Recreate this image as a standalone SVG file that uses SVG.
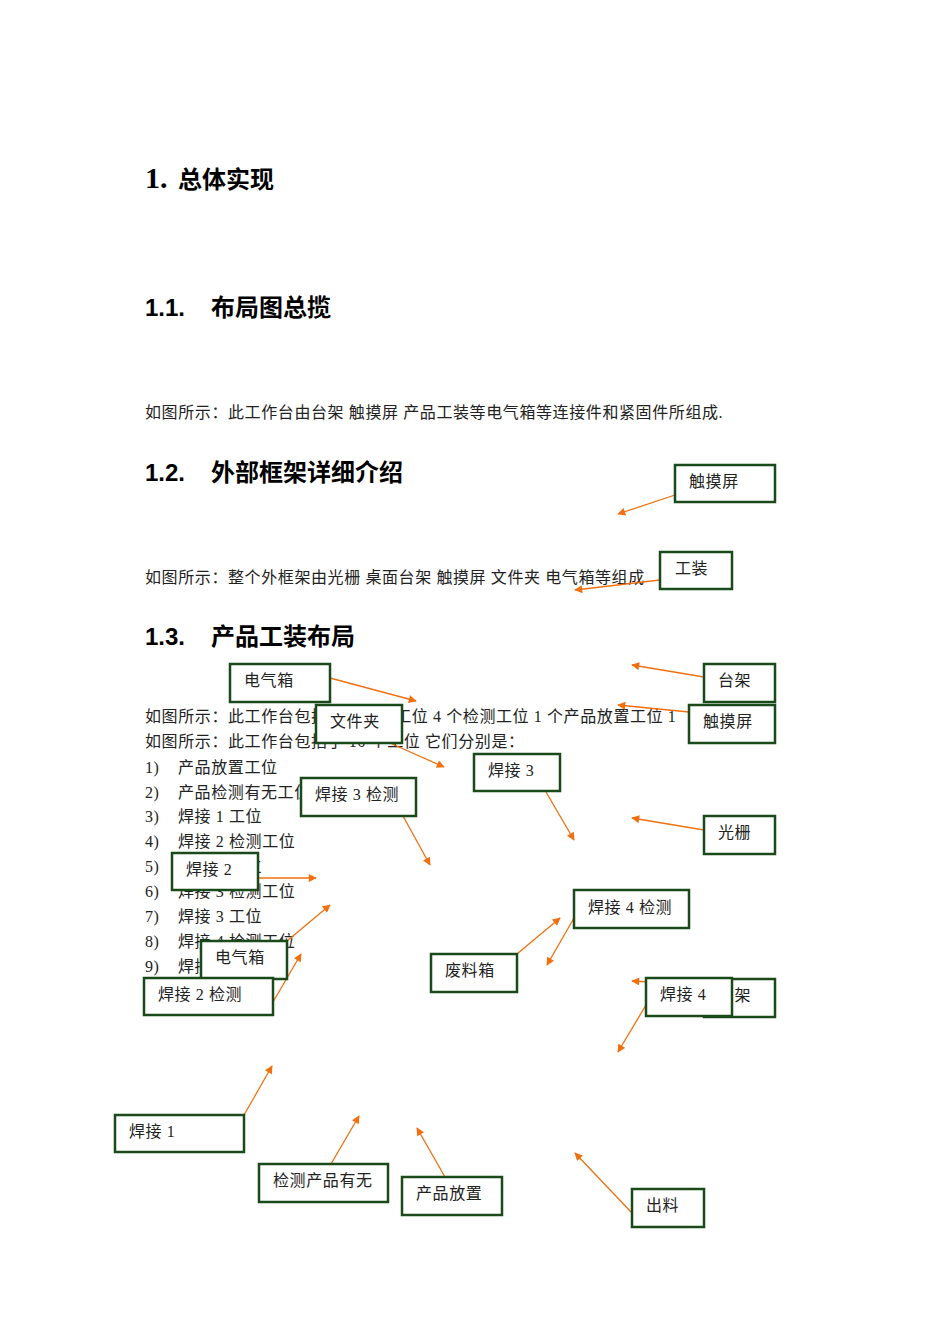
<svg xmlns="http://www.w3.org/2000/svg" width="950" height="1344" viewBox="0 0 950 1344">
<defs>
<marker id="ah" viewBox="0 0 10 10" refX="9" refY="5" markerWidth="10" markerHeight="8" markerUnits="userSpaceOnUse" orient="auto"><path d="M0,0L10,5L0,10z" fill="#f07010"/></marker>
<style>
.t{font-family:"Liberation Serif","Noto Sans CJK SC",serif;font-size:16px;fill:#222;letter-spacing:0.6px}
.h{font-family:"Liberation Sans","Noto Sans CJK SC",sans-serif;font-size:24px;font-weight:bold;fill:#000}
.b{fill:#fff;stroke:#1a4a1a;stroke-width:2.5}
.c line{stroke:#f07010;stroke-width:1.3;marker-end:url(#ah)}
</style>
</defs>
<rect width="950" height="1344" fill="#fff"/>
<text x="145" y="188" font-family="Liberation Serif,serif" font-size="30" font-weight="bold">1.</text>
<text x="178" y="188" font-family="Noto Sans CJK SC,sans-serif" font-size="24" font-weight="bold">总体实现</text>
<text class="h" x="145" y="316">1.1.</text><text class="h" x="211" y="316">布局图总揽</text>
<text class="t" x="145" y="418">如图所示：此工作台由台架 触摸屏 产品工装等电气箱等连接件和紧固件所组成.</text>
<text class="h" x="145" y="481">1.2.</text><text class="h" x="211" y="481">外部框架详细介绍</text>
<text class="t" x="145" y="583">如图所示：整个外框架由光栅 桌面台架 触摸屏 文件夹 电气箱等组成</text>
<text class="h" x="145" y="645">1.3.</text><text class="h" x="211" y="645">产品工装布局</text>
<text class="t" x="145" y="722">如图所示：此工作台包括 4 个焊接工位 4 个检测工位 1 个产品放置工位 1</text>
<text class="t" x="145" y="747">如图所示：此工作台包括了 10 个工位 它们分别是：</text>
<text class="t" x="145" y="773">1)</text><text class="t" x="178" y="773">产品放置工位</text>
<text class="t" x="145" y="798">2)</text><text class="t" x="178" y="798">产品检测有无工位</text>
<text class="t" x="145" y="822">3)</text><text class="t" x="178" y="822">焊接 1 工位</text>
<text class="t" x="145" y="847">4)</text><text class="t" x="178" y="847">焊接 2 检测工位</text>
<text class="t" x="145" y="872">5)</text><text class="t" x="178" y="872">焊接 2 工位</text>
<text class="t" x="145" y="897">6)</text><text class="t" x="178" y="897">焊接 3 检测工位</text>
<text class="t" x="145" y="922">7)</text><text class="t" x="178" y="922">焊接 3 工位</text>
<text class="t" x="145" y="947">8)</text><text class="t" x="178" y="947">焊接 4 检测工位</text>
<text class="t" x="145" y="972">9)</text><text class="t" x="178" y="972">焊接 4 工位</text>
<g id="connectors" class="c">
<line x1="675" y1="495" x2="618" y2="514"/>
<line x1="660" y1="580" x2="575" y2="590"/>
<line x1="330" y1="678" x2="416" y2="701"/>
<line x1="704" y1="677" x2="632" y2="665"/>
<line x1="390" y1="743" x2="444" y2="767"/>
<line x1="689" y1="712" x2="618" y2="705"/>
<line x1="546" y1="792" x2="574" y2="840"/>
<line x1="403" y1="816" x2="430" y2="865"/>
<line x1="704" y1="830" x2="632" y2="818"/>
<line x1="258" y1="878" x2="316" y2="878"/>
<line x1="574" y1="918" x2="547" y2="965"/>
<line x1="517" y1="954" x2="560" y2="918"/>
<line x1="287" y1="941" x2="330" y2="905"/>
<line x1="273" y1="1002" x2="301" y2="954"/>
<line x1="704" y1="985" x2="632" y2="981"/>
<line x1="646" y1="1005" x2="618" y2="1052"/>
<line x1="244" y1="1115" x2="272" y2="1066"/>
<line x1="331" y1="1164" x2="359" y2="1116"/>
<line x1="445" y1="1177" x2="417" y2="1128"/>
<line x1="632" y1="1213" x2="575" y2="1153"/>
</g>
<g id="n1"><rect class="b" x="675" y="465" width="100" height="37"/><text class="t" x="689" y="487">触摸屏</text></g>
<g id="n2"><rect class="b" x="660" y="552" width="72" height="37"/><text class="t" x="675" y="574">工装</text></g>
<g id="n3"><rect class="b" x="230" y="664" width="100" height="38"/><text class="t" x="244" y="686">电气箱</text></g>
<g id="n4"><rect class="b" x="704" y="664" width="71" height="38"/><text class="t" x="718" y="686">台架</text></g>
<g id="n5"><rect class="b" x="316" y="705" width="86" height="38"/><text class="t" x="330" y="727">文件夹</text></g>
<g id="n6"><rect class="b" x="689" y="705" width="86" height="38"/><text class="t" x="703" y="727">触摸屏</text></g>
<g id="n7"><rect class="b" x="474" y="754" width="86" height="37"/><text class="t" x="488" y="776">焊接 3</text></g>
<g id="n8"><rect class="b" x="301" y="778" width="115" height="38"/><text class="t" x="315" y="800">焊接 3 检测</text></g>
<g id="n9"><rect class="b" x="704" y="816" width="71" height="38"/><text class="t" x="718" y="838">光栅</text></g>
<g id="n10"><rect class="b" x="172" y="853" width="86" height="37"/><text class="t" x="186" y="875">焊接 2</text></g>
<g id="n11"><rect class="b" x="574" y="890" width="115" height="38"/><text class="t" x="588" y="913">焊接 4 检测</text></g>
<g id="n12"><rect class="b" x="201" y="941" width="86" height="38"/><text class="t" x="215" y="963">电气箱</text></g>
<g id="n13"><rect class="b" x="431" y="954" width="86" height="38"/><text class="t" x="445" y="976">废料箱</text></g>
<g id="n14"><rect class="b" x="144" y="978" width="129" height="37"/><text class="t" x="158" y="1000">焊接 2 检测</text></g>
<g id="n15"><rect class="b" x="704" y="979" width="71" height="38"/><text class="t" x="718" y="1001">台架</text></g>
<g id="n16"><rect class="b" x="646" y="978" width="86" height="38"/><text class="t" x="660" y="1000">焊接 4</text></g>
<g id="n17"><rect class="b" x="115" y="1115" width="129" height="37"/><text class="t" x="129" y="1137">焊接 1</text></g>
<g id="n18"><rect class="b" x="259" y="1164" width="129" height="38"/><text class="t" x="273" y="1186">检测产品有无</text></g>
<g id="n19"><rect class="b" x="402" y="1177" width="100" height="38"/><text class="t" x="416" y="1199">产品放置</text></g>
<g id="n20"><rect class="b" x="632" y="1189" width="72" height="38"/><text class="t" x="646" y="1211">出料</text></g>
</svg>
